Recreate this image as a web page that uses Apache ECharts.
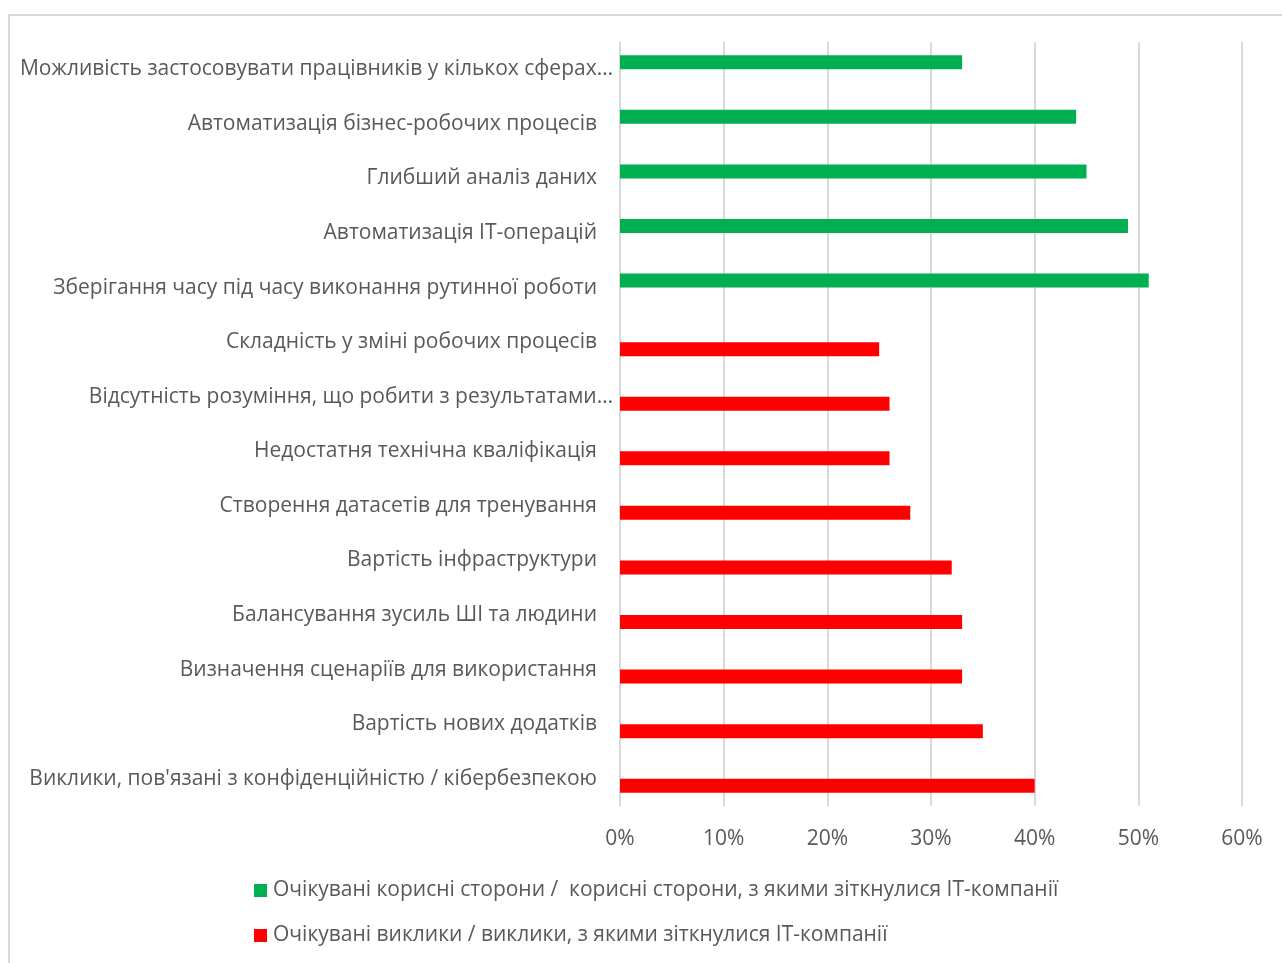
<!DOCTYPE html>
<html>
<head>
<meta charset="utf-8">
<script src="https://cdn.jsdelivr.net/npm/echarts@6/dist/echarts.min.js"></script>
<style>
  html, body { margin: 0; padding: 0; background: #fff; overflow: hidden; }
  #frame { position: absolute; left: 8px; top: 14px; width: 1300px; height: 980px; border: 2px solid #d9d9d9; box-sizing: border-box; }
  #chart { position: absolute; left: 0; top: 0; width: 1282px; height: 963px; }
</style>
</head>
<body>
<div id="frame"></div>
<div id="chart"></div>
<script>
// Categories, top to bottom
const categories = [
  'Можливість застосовувати працівників у кількох сферах…',
  'Автоматизація бізнес-робочих процесів',
  'Глибший аналіз даних',
  'Автоматизація ІТ-операцій',
  'Зберігання часу під часу виконання рутинної роботи',
  'Складність у зміні робочих процесів',
  'Відсутність розуміння, що робити з результатами…',
  'Недостатня технічна кваліфікація',
  'Створення датасетів для тренування',
  'Вартість інфраструктури',
  'Балансування зусиль ШІ та людини',
  'Визначення сценаріїв для використання',
  'Вартість нових додатків',
  'Виклики, пов\'язані з конфіденційністю / кібербезпекою'
];

const seriesNames = [
  'Очікувані корисні сторони /  корисні сторони, з якими зіткнулися ІТ-компанії',
  'Очікувані виклики / виклики, з якими зіткнулися ІТ-компанії'
];

// Percent values (null where the category belongs to the other group)
const benefits = [33, 44, 45, 49, 51, null, null, null, null, null, null, null, null, null];
const challenges = [null, null, null, null, null, 25, 26, 26, 28, 32, 33, 33, 35, 40];

const xTicks = { min: 0, max: 60, interval: 10 };

const FONT = '"Open Sans", "Noto Sans", sans-serif';
const TEXT = '#595959';

// Shortened labels let their ellipsis hang past the common right edge
const catLabel = (v) => v.endsWith('…') ? '{cut|' + v + '}' : v;

const chart = echarts.init(document.getElementById('chart'), null, { renderer: 'canvas' });
chart.setOption({
  animation: false,
  textStyle: { fontFamily: FONT },
  grid: { left: 620, right: 40, top: 42, bottom: 157, containLabel: false },
  xAxis: {
    type: 'value',
    min: xTicks.min, max: xTicks.max, interval: xTicks.interval,
    axisLine: { show: false },
    axisTick: { show: false },
    splitLine: { show: true, lineStyle: { color: '#d9d9d9', width: 2 } },
    axisLabel: { formatter: '{value}%', color: TEXT, fontSize: 21, fontFamily: FONT, margin: 23 }
  },
  yAxis: {
    type: 'category',
    inverse: true,
    data: categories,
    axisLine: { show: false },
    axisTick: { show: false },
    axisLabel: {
      color: TEXT, fontSize: 21, fontFamily: FONT, margin: 23,
      formatter: catLabel,
      rich: { cut: { color: TEXT, fontSize: 21, fontFamily: FONT, padding: [0, -16, 0, 0] } }
    }
  },
  legend: {
    orient: 'vertical',
    left: 249, top: 875,
    itemWidth: 13, itemHeight: 13,
    itemGap: 24,
    icon: 'rect',
    textStyle: { color: TEXT, fontSize: 21, fontFamily: FONT, lineHeight: 20, padding: [0, 0, 0, 1] },
    data: seriesNames
  },
  series: [
    { name: seriesNames[0], type: 'bar', data: benefits, barWidth: 14, barGap: '0%',
      itemStyle: { color: '#00b050' } },
    { name: seriesNames[1], type: 'bar', data: challenges, barWidth: 14, barGap: '0%',
      itemStyle: { color: '#ff0000' } }
  ]
});
</script>
</body>
</html>
